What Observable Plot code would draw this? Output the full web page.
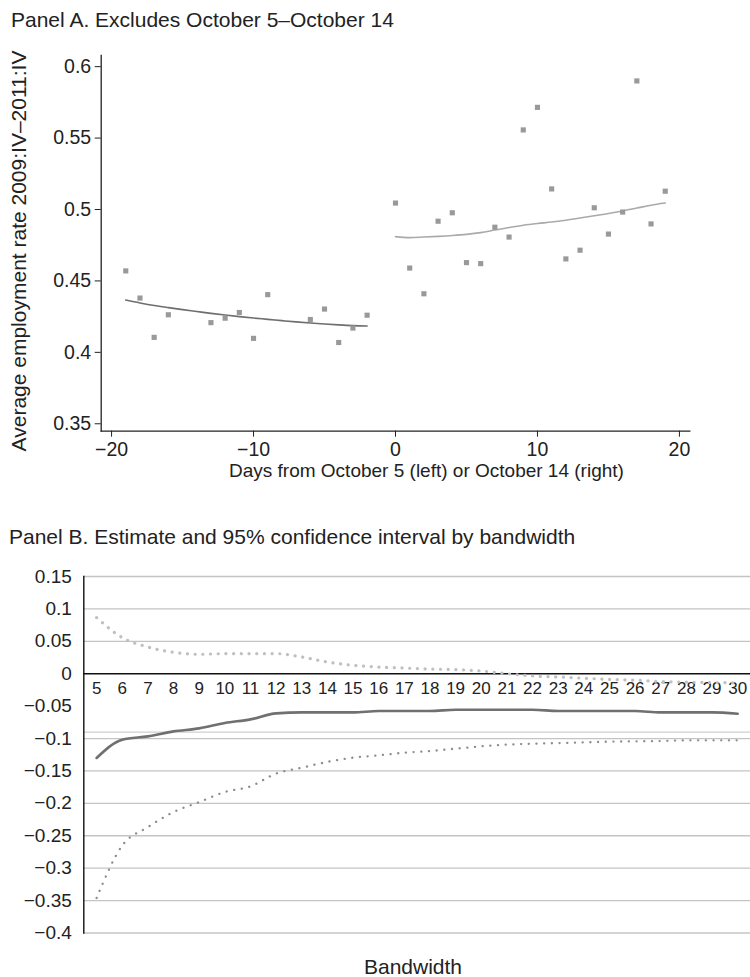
<!DOCTYPE html>
<html>
<head>
<meta charset="utf-8">
<script src="https://cdn.jsdelivr.net/npm/d3@7"></script>
<script src="https://cdn.jsdelivr.net/npm/@observablehq/plot@0.6"></script>
<style>
  html, body { margin: 0; padding: 0; background: #fff; }
  #root { position: relative; width: 750px; height: 977px; overflow: hidden;
          font-family: "Liberation Sans", Arial, sans-serif; color: #222; }
  .t { position: absolute; font-size: 21px; line-height: 21px; white-space: nowrap; }
  .plot { position: absolute; left: 0; }
</style>
</head>
<body>
<div id="root">
  <div class="t" id="titleA" style="left:11px; top:9px;">Panel A. Excludes October 5–October 14</div>
  <div class="t" id="ylabA" style="left:18px; top:251px; transform: translate(-50%,-50%) rotate(-90deg); transform-origin: center;">Average employment rate 2009:IV–2011:IV</div>
  <div class="t" id="xlabA" style="left:229px; top:461px; font-size:19px; line-height:19px;">Days from October 5 (left) or October 14 (right)</div>
  <div class="plot" id="panelA" style="top:45px;"></div>
  <div class="t" id="titleB" style="left:9px; top:526px;">Panel B. Estimate and 95% confidence interval by bandwidth</div>
  <div class="plot" id="panelB" style="top:560px;"></div>
  <div class="t" id="xlabB" style="left:413px; top:956px; transform: translateX(-50%);">Bandwidth</div>
</div>
<script>
// ---------- Panel A data ----------
const daysLeft = [-19, -18, -17, -16, -13, -12, -11, -10, -9, -6, -5, -4, -3, -2];
const rateLeft = [0.457, 0.438, 0.4105, 0.4263, 0.4208, 0.4239, 0.4279, 0.4098, 0.4404, 0.423, 0.4303, 0.4069, 0.417, 0.426];
const daysRight = [0, 1, 2, 3, 4, 5, 6, 7, 8, 9, 10, 11, 12, 13, 14, 15, 16, 17, 18, 19];
const rateRight = [0.5045, 0.459, 0.441, 0.4918, 0.4977, 0.4628, 0.4621, 0.4876, 0.4807, 0.5557, 0.5715, 0.5144, 0.4654, 0.4715, 0.5012, 0.4828, 0.4982, 0.590, 0.4899, 0.5128];
const fitLeftDays = [-19, -18, -17, -16, -15, -14, -13, -12, -11, -10, -9, -8, -7, -6, -5, -4, -3, -2];
const fitLeft = [0.4366, 0.4346, 0.4328, 0.4313, 0.4299, 0.4286, 0.4273, 0.4261, 0.425, 0.424, 0.4231, 0.4222, 0.4213, 0.4205, 0.4198, 0.4192, 0.4187, 0.4184];
const fitRightDays = daysRight;
const fitRight = [0.481, 0.4803, 0.4807, 0.4812, 0.4818, 0.4826, 0.4838, 0.4856, 0.4874, 0.489, 0.4902, 0.4912, 0.4925, 0.494, 0.4956, 0.4972, 0.499, 0.501, 0.503, 0.5045];
const ticksAY = [0.35, 0.4, 0.45, 0.5, 0.55, 0.6];
const ticksAX = [-20, -10, 0, 10, 20];

// ---------- Panel B data ----------
const bandwidth = [5, 6, 7, 8, 9, 10, 11, 12, 13, 14, 15, 16, 17, 18, 19, 20, 21, 22, 23, 24, 25, 26, 27, 28, 29, 30];
const estimate = [-0.130, -0.1017, -0.0966, -0.0889, -0.0843, -0.076, -0.0704, -0.0611, -0.0596, -0.0596, -0.0596, -0.0575, -0.0575, -0.0575, -0.0555, -0.0555, -0.0555, -0.0555, -0.0575, -0.0575, -0.0575, -0.0575, -0.0596, -0.0596, -0.0596, -0.0617];
const upperCI = [0.0866, 0.0557, 0.0412, 0.033, 0.030, 0.031, 0.031, 0.031, 0.0258, 0.018, 0.013, 0.0103, 0.0088, 0.0073, 0.0063, 0.0042, 0.0, -0.0035, -0.005, -0.007, -0.0087, -0.010, -0.012, -0.013, -0.0135, -0.0143];
const lowerCI = [-0.346, -0.265, -0.2366, -0.2134, -0.198, -0.1825, -0.1738, -0.154, -0.145, -0.136, -0.1295, -0.126, -0.1218, -0.1193, -0.1156, -0.112, -0.1094, -0.108, -0.107, -0.106, -0.1048, -0.1043, -0.1038, -0.1028, -0.1028, -0.1028];
const gridB = [0.15, 0.1, 0.05, -0.1, -0.15, -0.2, -0.25, -0.3, -0.35, -0.4];
const refLineB = [-0.09];
const ticksBY = [0.15, 0.1, 0.05, 0, -0.05, -0.1, -0.15, -0.2, -0.25, -0.3, -0.35, -0.4];

const fmt = d => (d < 0 ? "\u2212" : "") + String(+Math.abs(d).toFixed(2));
const FONT = "Liberation Sans, Arial, sans-serif";

// ---------- Panel A ----------
const ptsL = daysLeft.map((d, i) => ({day: d, rate: rateLeft[i]}));
const ptsR = daysRight.map((d, i) => ({day: d, rate: rateRight[i]}));
const fitL = fitLeftDays.map((d, i) => ({day: d, rate: fitLeft[i]}));
const fitR = fitRightDays.map((d, i) => ({day: d, rate: fitRight[i]}));

const plotA = Plot.plot({
  width: 750, height: 440,
  marginLeft: 100.7, marginRight: 60.7, marginTop: 10, marginBottom: 54.3,
  style: {fontFamily: FONT, fontSize: "19px", color: "#222", background: "transparent"},
  x: {domain: [-20.73, 20.73]},
  y: {domain: [0.3448, 0.6078]},
  marks: [
    Plot.frame({anchor: "left", stroke: "#222", strokeWidth: 1.3}),
    Plot.frame({anchor: "bottom", stroke: "#222", strokeWidth: 1.3}),
    Plot.axisY({ticks: ticksAY, tickSize: 6, tickPadding: 4, tickFormat: fmt, label: null, fontSize: 19.5, stroke: "#222"}),
    Plot.axisX({ticks: ticksAX, tickSize: 6, tickPadding: 5, tickFormat: fmt, label: null, fontSize: 19.5, stroke: "#222"}),
    Plot.line(fitL, {x: "day", y: "rate", stroke: "#6e6e6e", strokeWidth: 1.6, curve: "monotone-x"}),
    Plot.line(fitR, {x: "day", y: "rate", stroke: "#aaaaaa", strokeWidth: 1.6, curve: "monotone-x"}),
    Plot.dot(ptsL, {x: "day", y: "rate", symbol: "square", r: 2.9, fill: "#999999", stroke: null}),
    Plot.dot(ptsR, {x: "day", y: "rate", symbol: "square", r: 2.9, fill: "#999999", stroke: null})
  ]
});
document.getElementById("panelA").appendChild(plotA);

// ---------- Panel B ----------
const rowsB = bandwidth.map((b, i) => ({bw: b, est: estimate[i], up: upperCI[i], lo: lowerCI[i]}));

const plotB = Plot.plot({
  width: 750, height: 417,
  marginLeft: 83.3, marginRight: 0, marginTop: 16, marginBottom: 44.5,
  style: {fontFamily: FONT, fontSize: "18px", color: "#222", background: "transparent"},
  x: {domain: [4.5, 30.5], axis: null},
  y: {domain: [-0.4, 0.15]},
  marks: [
    Plot.ruleY(gridB, {stroke: "#c4c4c4", strokeWidth: 1.3}),
    Plot.ruleY(refLineB, {stroke: "#cfcfcf", strokeWidth: 1.3}),
    Plot.ruleY([0], {stroke: "#111", strokeWidth: 1.4}),
    Plot.frame({anchor: "left", stroke: "#111", strokeWidth: 1.4}),
    Plot.axisY({ticks: ticksBY, tickSize: 0, tickPadding: 12, tickFormat: fmt, label: null, fontSize: 19}),
    Plot.text(bandwidth, {x: d => d, y: () => 0, text: d => String(d), dy: 15, fontSize: 17, fill: "#222"}),
    Plot.line(rowsB, {x: "bw", y: "up", stroke: "#c0c0c0", strokeWidth: 3.2, strokeDasharray: "0.1,7.6", strokeLinecap: "round", curve: "monotone-x"}),
    Plot.line(rowsB, {x: "bw", y: "lo", stroke: "#8c8c8c", strokeWidth: 2.3, strokeDasharray: "0.1,7.6", strokeLinecap: "round", curve: "monotone-x"}),
    Plot.line(rowsB, {x: "bw", y: "est", stroke: "#707070", strokeWidth: 2.6, curve: "monotone-x"})
  ]
});
document.getElementById("panelB").appendChild(plotB);
</script>
</body>
</html>
